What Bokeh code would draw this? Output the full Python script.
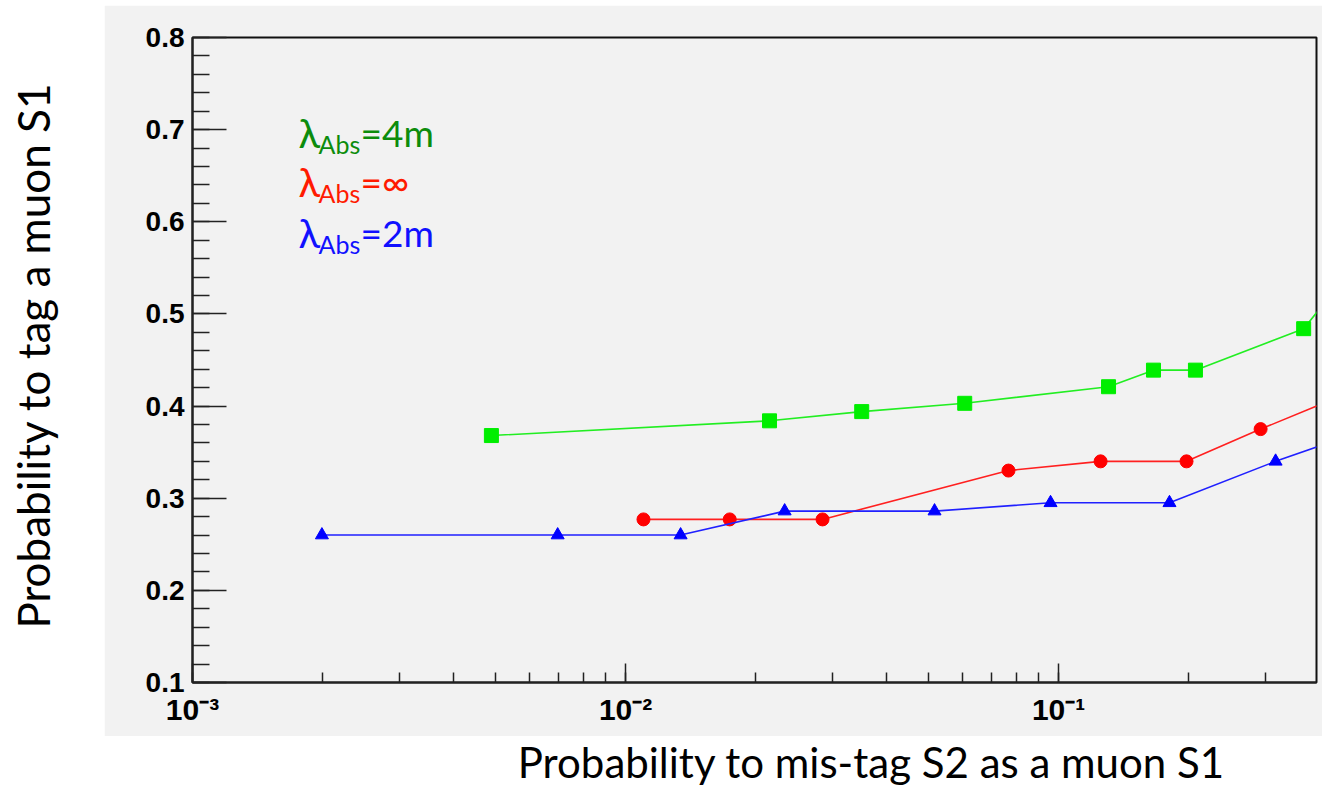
import math
from bokeh.plotting import figure
from bokeh.layouts import column, row
from bokeh.models import (Range1d, Label, CustomJSTickFormatter, Spacer,
                          LogTicker, SingleIntervalTicker)
from bokeh.embed import file_html
from bokeh.resources import INLINE

# ---- data ----
green_x = [0.0049, 0.0215, 0.0351, 0.0607, 0.1304, 0.1656, 0.207, 0.368, 0.45]
green_y = [0.368, 0.384, 0.394, 0.403, 0.421, 0.439, 0.439, 0.484, 0.535]

red_x = [0.0110, 0.0174, 0.0285, 0.0766, 0.125, 0.1974, 0.2927, 0.45]
red_y = [0.277, 0.277, 0.277, 0.330, 0.340, 0.340, 0.375, 0.411]

blue_x = [0.00199, 0.00697, 0.0134, 0.0233, 0.0517, 0.0958, 0.1803, 0.317, 0.45]
blue_y = [0.260, 0.260, 0.260, 0.286, 0.286, 0.295, 0.295, 0.340, 0.365]

legend_main = ["λ", "λ", "λ"]
legend_sub = ["Abs", "Abs", "Abs"]
legend_tail = ["=4m", "=∞", "=2m"]
legend_colors = ["#0c8c0c", "#ff1a00", "#1010ff"]

x_title = "Probability to mis-tag S2 as a muon S1"
y_title = "Probability to tag a muon S1"

GREY = "#f2f2f2"
TOTAL_W, TOTAL_H = 1322, 787
TOP_GAP = 5
LEFT_W = 104
MAIN_H = 731
BOTTOM_H = TOTAL_H - TOP_GAP - MAIN_H

# ---- main plot (grey panel) ----
p = figure(width=TOTAL_W - LEFT_W, height=MAIN_H, x_axis_type="log",
           x_range=Range1d(1e-3, 0.394), y_range=Range1d(0.1, 0.8),
           output_backend="svg", toolbar_location=None,
           min_border_left=88, min_border_right=6,
           min_border_top=32, min_border_bottom=54)
p.background_fill_color = GREY
p.border_fill_color = GREY
p.outline_line_color = "#111111"
p.outline_line_width = 2
p.xgrid.visible = False
p.ygrid.visible = False

for ax in (p.xaxis[0], p.yaxis[0]):
    ax.axis_line_color = "#222222"
    ax.axis_line_width = 2
    ax.major_tick_line_color = "#222222"
    ax.minor_tick_line_color = "#222222"
    ax.major_tick_line_width = 1.5
    ax.minor_tick_line_width = 1.5
    ax.major_tick_out = 0
    ax.minor_tick_out = 0
    ax.major_label_text_font = "Liberation Sans"
    ax.major_label_text_font_style = "bold"
    ax.major_label_text_color = "black"

p.yaxis[0].ticker = SingleIntervalTicker(interval=0.1, num_minor_ticks=5)
p.yaxis[0].major_tick_in = 34
p.yaxis[0].minor_tick_in = 17
p.yaxis[0].major_label_text_font_size = "28px"
p.yaxis[0].major_label_standoff = 8

p.xaxis[0].ticker = LogTicker(num_minor_ticks=10)
p.xaxis[0].major_tick_in = 19
p.xaxis[0].minor_tick_in = 10
p.xaxis[0].major_label_text_font_size = "30px"
p.xaxis[0].major_label_standoff = 10
p.xaxis[0].formatter = CustomJSTickFormatter(code="""
const sup = {"-":"\u207b","0":"\u2070","1":"\u00b9","2":"\u00b2","3":"\u00b3",
             "4":"\u2074","5":"\u2075","6":"\u2076","7":"\u2077","8":"\u2078","9":"\u2079"};
const e = Math.round(Math.log10(tick));
return "10" + String(e).split("").map(c => sup[c]).join("");
""")

# data series
p.line(green_x, green_y, line_color="#22ee22", line_width=1.6)
p.scatter(green_x, green_y, marker="square", size=14, fill_color="#00ee00", line_color="#00ee00")
p.line(red_x, red_y, line_color="#ff2020", line_width=1.6)
p.scatter(red_x, red_y, marker="circle", size=13, fill_color="#ff0000", line_color="#ff0000")
p.line(blue_x, blue_y, line_color="#2020ff", line_width=1.6)
p.scatter(blue_x, blue_y, marker="triangle", size=13, fill_color="#0000ff", line_color="#0000ff")

# legend-like texts
base_y = [127, 176, 227]
for i in range(3):
    c = legend_colors[i]
    p.add_layout(Label(x=194, y=base_y[i], x_units="canvas", y_units="canvas",
                       text=legend_main[i], text_font="Lato", text_font_size="40px",
                       text_color=c, text_baseline="alphabetic"))
    p.add_layout(Label(x=214, y=base_y[i] + 11, x_units="canvas", y_units="canvas",
                       text=legend_sub[i], text_font="Lato", text_font_size="25px",
                       text_color=c, text_baseline="alphabetic"))
    p.add_layout(Label(x=256, y=base_y[i], x_units="canvas", y_units="canvas",
                       text=legend_tail[i], text_font="Lato", text_font_size="37px",
                       text_color=c, text_baseline="alphabetic"))

# ---- left strip with the y title ----
left = figure(width=LEFT_W, height=MAIN_H, x_axis_type=None, y_axis_type=None,
              output_backend="svg", toolbar_location=None,
              min_border=0, x_range=Range1d(0, 1), y_range=Range1d(0, 1))
left.outline_line_color = None
left.background_fill_color = "white"
left.border_fill_color = "white"
left.xgrid.visible = False
left.ygrid.visible = False
left.add_layout(Label(x=32, y=350, x_units="canvas", y_units="canvas",
                      text=y_title, text_font="Lato", text_font_size="44px",
                      text_color="black", text_align="center", text_baseline="middle",
                      angle=math.pi / 2))

# ---- bottom strip with the x title ----
bottom = figure(width=TOTAL_W, height=BOTTOM_H, x_axis_type=None, y_axis_type=None,
                output_backend="svg", toolbar_location=None,
                min_border=0, x_range=Range1d(0, 1), y_range=Range1d(0, 1))
bottom.outline_line_color = None
bottom.background_fill_color = "white"
bottom.border_fill_color = "white"
bottom.xgrid.visible = False
bottom.ygrid.visible = False
bottom.add_layout(Label(x=871, y=25, x_units="canvas", y_units="canvas",
                        text=x_title, text_font="Lato", text_font_size="42px",
                        text_color="black", text_align="center", text_baseline="middle"))

layout = column(Spacer(width=TOTAL_W, height=TOP_GAP), row(left, p), bottom)

open("out.html", "w").write(file_html(layout, INLINE))
